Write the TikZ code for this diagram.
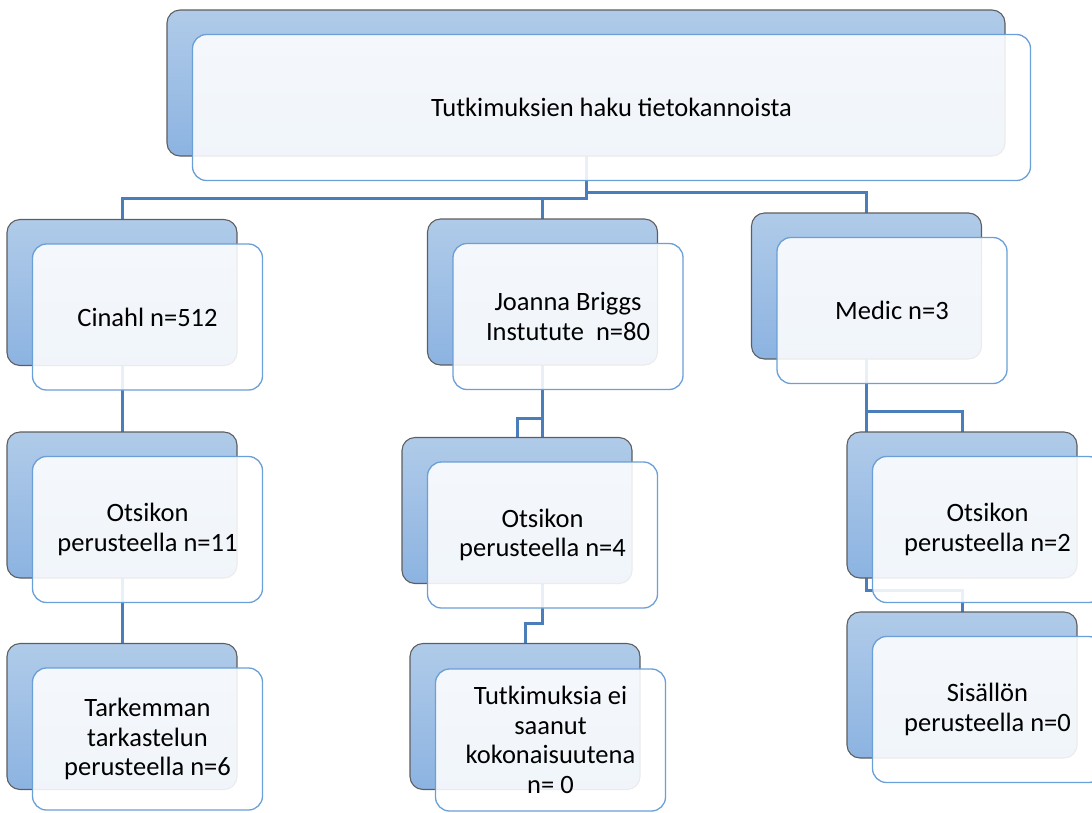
\documentclass[tikz,border=0pt]{standalone}
\usepackage{fontspec}
\setmainfont{Carlito}
\definecolor{connc}{HTML}{4A7EBB}
\definecolor{backtop}{HTML}{B0CBE9}
\definecolor{backbot}{HTML}{8CB3E1}
\definecolor{backborder}{HTML}{5E5E5E}
\definecolor{frontborder}{HTML}{6A9FD8}
\begin{document}
\begin{tikzpicture}[x=1pt,y=-1pt,
  conn/.style={draw=connc, line width=3pt},
  backbox/.style={draw=backborder, line width=1.1pt, rounded corners=13pt,
    top color=backtop, bottom color=backbot,
    minimum width=230pt, minimum height=146pt, inner sep=0pt, outer sep=0pt},
  frontbox/.style={draw=frontborder, line width=1.3pt, rounded corners=14pt,
    fill=white, fill opacity=0.88, text opacity=1,
    minimum width=230pt, minimum height=146pt, align=center,
    inner sep=0pt, outer sep=0pt, font=\fontsize{26.5}{29.5}\selectfont}]
\useasboundingbox (0,0) rectangle (1092,812);
\clip (0,0) rectangle (1092,812);

% coordinates of the boxes (centres)
\coordinate (topbc) at (586,83);
\coordinate (cinbc) at (122,292.5);
\coordinate (joabc) at (542.5,292);
\coordinate (medbc) at (866.5,286);
\coordinate (o11bc) at (122,505);
\coordinate (o4bc) at (517,510.5);
\coordinate (o2bc) at (962,505);
\coordinate (tarbc) at (122,716.5);
\coordinate (tutbc) at (525,716.5);
\coordinate (sisbc) at (962,685);

% invisible anchors for the connectors
\path (topbc) node[backbox, minimum width=838pt, draw=none, opacity=0] (topb) {};
\path (cinbc) node[backbox, draw=none, opacity=0] (cinb) {};
\path (joabc) node[backbox, draw=none, opacity=0] (joab) {};
\path (medbc) node[backbox, draw=none, opacity=0] (medb) {};
\path (o11bc) node[backbox, draw=none, opacity=0] (o11b) {};
\path (o4bc) node[backbox, draw=none, opacity=0] (o4b) {};
\path (o2bc) node[backbox, draw=none, opacity=0] (o2b) {};
\path (tarbc) node[backbox, draw=none, opacity=0] (tarb) {};
\path (tutbc) node[backbox, draw=none, opacity=0] (tutb) {};
\path (sisbc) node[backbox, draw=none, opacity=0] (sisb) {};

% connectors
\draw[conn] (topb.south) -- ++(0,42) -| (cinb.north);
\draw[conn] (topb.south) -- ++(0,42) -| (joab.north);
\draw[conn] (topb.south) -- ++(0,36) -| (medb.north);
\draw[conn] (cinb.south) -- (o11b.north);
\draw[conn] (o11b.south) -- (tarb.north);
\draw[conn] (joab.south) -- ++(0,53) -| (o4b.north);
\draw[conn] (joab.south) -- ++(0,258) -| (tutb.north);
\draw[conn] (medb.south) -- ++(0,52) -| (o2b.north);
\draw[conn] (medb.south) -- ++(0,231) -| (sisb.north);

% visible back boxes
\node[backbox, minimum width=838pt] (topbv) at (topbc) {};
\node[backbox] (cinbv) at (cinbc) {};
\node[backbox] (joabv) at (joabc) {};
\node[backbox] (medbv) at (medbc) {};
\node[backbox] (o11bv) at (o11bc) {};
\node[backbox] (o4bv) at (o4bc) {};
\node[backbox] (o2bv) at (o2bc) {};
\node[backbox] (tarbv) at (tarbc) {};
\node[backbox] (tutbv) at (tutbc) {};
\node[backbox] (sisbv) at (sisbc) {};

% front boxes with text
\node[frontbox, minimum width=838pt] (topf) at ([shift={(25.5,24.5)}]topbc) {Tutkimuksien haku tietokannoista};
\node[frontbox] (cinf) at ([shift={(25.5,24.5)}]cinbc) {Cinahl n=512};
\node[frontbox] (joaf) at ([shift={(25.5,24.5)}]joabc) {Joanna Briggs\\Instutute~ n=80};
\node[frontbox] (medf) at ([shift={(25.5,24.5)}]medbc) {Medic n=3};
\node[frontbox] (o11f) at ([shift={(25.5,24.5)}]o11bc) {Otsikon\\perusteella n=11};
\node[frontbox] (o4f) at ([shift={(25.5,24.5)}]o4bc) {Otsikon\\perusteella n=4};
\node[frontbox] (o2f) at ([shift={(25.5,24.5)}]o2bc) {Otsikon\\perusteella n=2};
\node[frontbox, minimum height=142pt] (tarf) at ([shift={(25.5,22.5)}]tarbc) {Tarkemman\\tarkastelun\\perusteella n=6};
\node[frontbox, minimum height=142pt] (tutf) at ([shift={(25.5,23.5)}]tutbc) {Tutkimuksia ei\\saanut\\kokonaisuutena\\n= 0};
\node[frontbox] (sisf) at ([shift={(25.5,24.5)}]sisbc) {Sisällön\\perusteella n=0};
\end{tikzpicture}
\end{document}
